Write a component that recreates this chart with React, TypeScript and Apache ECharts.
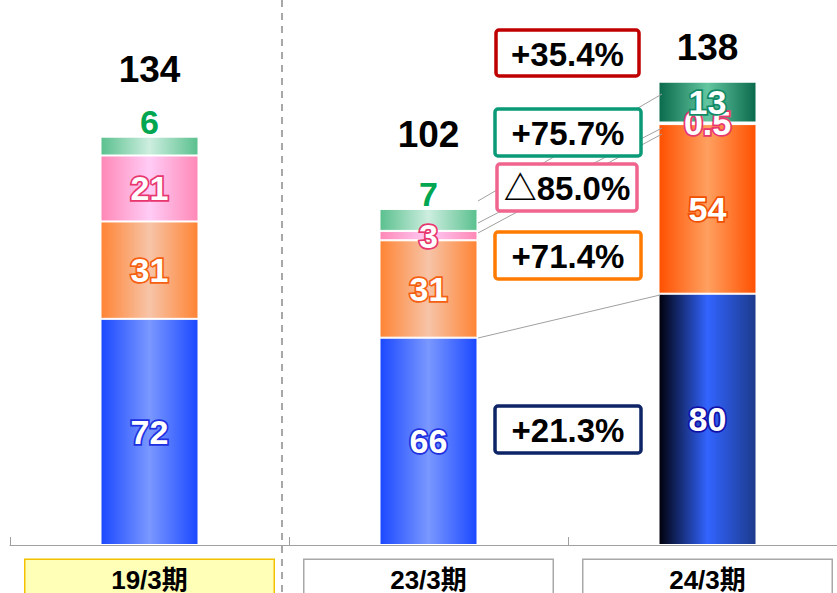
import React, { useEffect, useRef } from 'react';
import * as echarts from 'echarts';

const categories = ['19/3期', '23/3期', '24/3期'];
const blueValues = [72, 66, 80];
const orangeValues = [31, 31, 54];
const pinkValues = [21, 3, 0.5];
const greenValues = [6, 7, 13];
const totals = [134, 102, 138];
const changeLabels = ['+35.4%', '+75.7%', '△85.0%', '+71.4%', '+21.3%'];

const FONT = "'Liberation Sans', Arial, 'Noto Sans CJK JP', sans-serif";
const NARROW = "'Liberation Sans Narrow', 'Arial Narrow', 'Liberation Sans', 'Noto Sans CJK JP', sans-serif";

function grad(a: string, b: string, c: string) {
  return new echarts.graphic.LinearGradient(0, 0, 1, 0, [
    { offset: 0, color: a },
    { offset: 0.5, color: b },
    { offset: 1, color: c },
  ]);
}

const blueFill = [
  grad('#1b48ff', '#7a98ff', '#1b48ff'),
  grad('#1b48ff', '#7a98ff', '#1b48ff'),
  grad('#00000a', '#3264ff', '#1c3a8c'),
];
const orangeFill = [
  grad('#ff8434', '#f7c4a8', '#ff8434'),
  grad('#ff8434', '#f7c4a8', '#ff8434'),
  grad('#ff5000', '#ffa060', '#ff5000'),
];
const pinkFill = [
  grad('#ff88b6', '#ffccf6', '#ff88b6'),
  grad('#ff88b6', '#ffccf6', '#ff88b6'),
  grad('#ff88b6', '#ffccf6', '#ff88b6'),
];
const greenFill = [
  grad('#5ac08e', '#cdeee0', '#5ac08e'),
  grad('#5ac08e', '#cdeee0', '#5ac08e'),
  grad('#0a6a4c', '#62c6a0', '#0a6a4c'),
];
const blueOutline = ['#2030e0', '#2030e0', '#1010a8'];
const totalDistance = [48, 55, 15];

const segLabel = (outline: string) => ({
  show: true,
  position: 'inside',
  color: '#fff',
  fontFamily: FONT,
  fontWeight: 'bold',
  fontSize: 34,
  textBorderColor: outline,
  textBorderWidth: 3.5,
});

const boxes = [
  { x: 496, y: 30, w: 143, h: 46, color: '#c00000' },
  { x: 495, y: 109, w: 146, h: 47, color: '#0a9a78' },
  { x: 497, y: 164, w: 140, h: 47, color: '#f0648e' },
  { x: 495, y: 232, w: 146, h: 47, color: '#ff7a00' },
  { x: 495, y: 406, w: 146, h: 47, color: '#0d2466' },
];

const connectors = [
  [478, 201, 662, 94],
  [478, 223, 662, 128],
  [478, 233, 662, 134],
  [478, 338, 660, 295],
];

export default function App() {
  const ref = useRef<HTMLDivElement>(null);
  useEffect(() => {
    if (!ref.current) return;
    const chart = echarts.init(ref.current, undefined, { renderer: 'svg' });
    const graphics: any[] = [
      {
        type: 'line',
        shape: { x1: 282, y1: 0, x2: 282, y2: 593 },
        style: { stroke: '#8a8a8a', lineWidth: 1.5, lineDash: [7, 6] },
        z: 1,
      },
    ];
    connectors.forEach((c) => {
      graphics.push({
        type: 'line',
        shape: { x1: c[0], y1: c[1], x2: c[2], y2: c[3] },
        style: { stroke: '#a0a0a0', lineWidth: 1 },
        z: 5,
      });
    });
    boxes.forEach((b, i) => {
      graphics.push({
        type: 'rect',
        shape: { x: b.x, y: b.y, width: b.w, height: b.h, r: 3 },
        style: { fill: '#fff', stroke: b.color, lineWidth: 3.5 },
        z: 10,
      });
      graphics.push({
        type: 'text',
        x: b.x + b.w / 2,
        y: b.y + b.h / 2 + 1,
        style: {
          text: changeLabels[i],
          fill: '#000',
          font: `bold 33px ${FONT}`,
          textAlign: 'center',
          textVerticalAlign: 'middle',
        },
        z: 11,
      });
    });

    const rich: any = {};
    const boxStyle = [
      { bg: '#ffffb8', border: '#f2c200' },
      { bg: '#ffffff', border: '#a8a8a8' },
      { bg: '#ffffff', border: '#a8a8a8' },
    ];
    boxStyle.forEach((s, i) => {
      rich['b' + i] = {
        width: 248,
        height: 40,
        lineHeight: 40,
        align: 'center',
        backgroundColor: s.bg,
        borderColor: s.border,
        borderWidth: 1.5,
        fontFamily: NARROW,
        fontWeight: 'bold',
        fontSize: 26,
        color: '#000',
      };
    });

    chart.setOption({
      animation: false,
      grid: { left: 10, width: 837, top: 11, bottom: 48, containLabel: false, outerBoundsMode: 'none' },
      xAxis: {
        type: 'category',
        data: categories,
        axisLine: { show: true, lineStyle: { color: '#a0a0a0', width: 1 } },
        axisTick: { show: true, inside: true, length: 8, lineStyle: { color: '#a0a0a0' } },
        axisLabel: {
          margin: 15,
          interval: 0,
          formatter: (v: string, i: number) => `{b${i}|${v}}`,
          rich,
        },
      },
      yAxis: { type: 'value', min: 0, max: 170, show: false, splitLine: { show: false } },
      graphic: graphics,
      series: [
        {
          name: 'blue',
          type: 'bar',
          stack: 's',
          barWidth: 98,
          itemStyle: { borderColor: '#fff', borderWidth: 1 },
          data: blueValues.map((v, i) => ({
            value: v,
            itemStyle: { color: blueFill[i] },
            label: segLabel(blueOutline[i]),
          })),
        },
        {
          name: 'orange',
          type: 'bar',
          stack: 's',
          barWidth: 98,
          itemStyle: { borderColor: '#fff', borderWidth: 1 },
          data: orangeValues.map((v, i) => ({
            value: v,
            itemStyle: { color: orangeFill[i] },
            label: segLabel(i === 2 ? '#f05000' : '#f56010'),
          })),
        },
        {
          name: 'pink',
          type: 'bar',
          stack: 's',
          barWidth: 98,
          itemStyle: { borderColor: '#fff', borderWidth: 1 },
          data: pinkValues.map((v, i) => ({
            value: v,
            itemStyle: { color: pinkFill[i] },
            label: segLabel('#e8366e'),
          })),
        },
        {
          name: 'green',
          type: 'bar',
          stack: 's',
          barWidth: 98,
          itemStyle: { borderColor: '#fff', borderWidth: 1 },
          data: greenValues.map((v, i) => ({
            value: v,
            itemStyle: { color: greenFill[i] },
            label:
              i === 2
                ? segLabel('#138a66')
                : {
                    show: true,
                    position: 'top',
                    distance: -2,
                    color: '#00a650',
                    fontFamily: FONT,
                    fontWeight: 'bold',
                    fontSize: 34,
                    lineHeight: 34,
                  },
          })),
        },
        {
          name: 'total',
          type: 'bar',
          stack: 's',
          barWidth: 98,
          data: totals.map((t, i) => ({
            value: 0,
            label: {
              show: true,
              position: 'top',
              distance: totalDistance[i],
              formatter: String(t),
              color: '#000',
              fontFamily: FONT,
              fontWeight: 'bold',
              fontSize: 37,
              lineHeight: 38,
            },
          })),
        },
      ],
    });
    return () => chart.dispose();
  }, []);
  return <div ref={ref} style={{ position: 'absolute', left: 0, top: 0, width: 837, height: 593 }} />;
}
